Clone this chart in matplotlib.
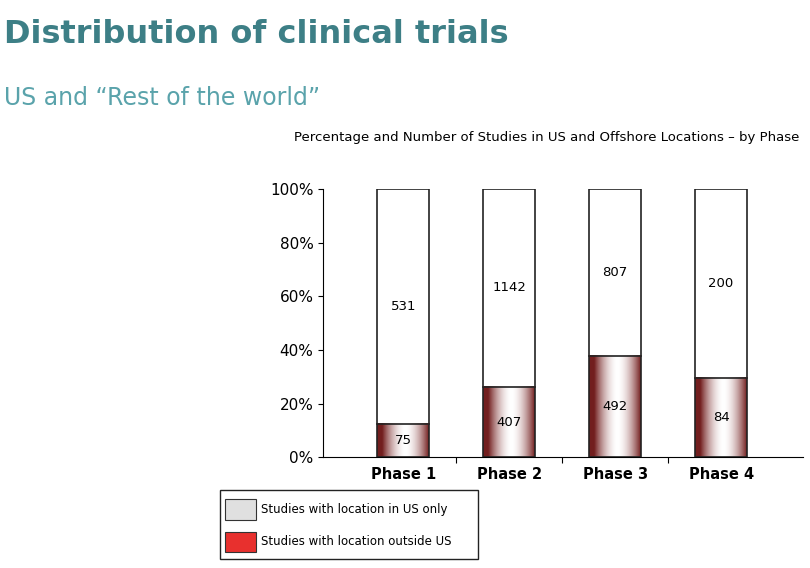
import matplotlib.pyplot as plt
import matplotlib.patches as mpatches
import numpy as np

phases = ["Phase 1", "Phase 2", "Phase 3", "Phase 4"]
us_only = [531, 1142, 807, 200]
outside = [75, 407, 492, 84]

fig = plt.figure(figsize=(8.1, 5.68), dpi=100)
fig.text(0.005, 0.94, "Distribution of clinical trials", fontsize=23, color="#3d7f86",
         fontweight="bold", va="center")
fig.text(0.005, 0.828, "US and \u201cRest of the world\u201d", fontsize=17, color="#5aa3ab",
         va="center")
fig.text(0.987, 0.758, "Percentage and Number of Studies in US and Offshore Locations \u2013 by Phase",
         fontsize=9.5, ha="right", va="center")

ax = fig.add_axes([0.399, 0.195, 0.592, 0.472])
x = np.arange(len(phases))
w = 0.49
totals = np.array(us_only) + np.array(outside)
pct_out = np.array(outside) / totals * 100

# gradient: dark red edges, white centre
t = np.linspace(0, 1, 200)
prof = np.clip(np.abs(t - 0.55) / 0.45, 0, 1) ** 1.8
dark = np.array([0.45, 0.12, 0.12])
grad = 1 - prof[:, None] * (1 - dark)[None, :]
grad = grad[None, :, :]

for i in range(len(phases)):
    ax.bar(x[i], 100 - pct_out[i], w, bottom=pct_out[i], color="white", edgecolor="#222222", lw=1.2, zorder=2)
    ax.imshow(grad, extent=[x[i] - w / 2, x[i] + w / 2, 0, pct_out[i]], aspect="auto", zorder=2)
    ax.bar(x[i], pct_out[i], w, facecolor="none", edgecolor="#222222", lw=1.2, zorder=3)
    ax.text(x[i], (pct_out[i] + 100) / 2, str(us_only[i]), ha="center", va="center", fontsize=9.5)
    ax.text(x[i], pct_out[i] / 2, str(outside[i]), ha="center", va="center", fontsize=9.5, zorder=4)

ax.set_xlim(-0.755, 3.77)
ax.set_ylim(0, 100)
ax.set_yticks(range(0, 101, 20))
ax.set_yticklabels([f"{v}%" for v in range(0, 101, 20)], fontsize=11)
ax.set_xticks([0.5, 1.5, 2.5])
ax.set_xticklabels([])
ax.tick_params(axis="x", length=4, direction="out")
for i, p in enumerate(phases):
    ax.text(x[i], -3.5, p, ha="center", va="top", fontsize=10.5, fontweight="bold")
for s in ["top", "right"]:
    ax.spines[s].set_visible(False)

# legend box
fig.patches.append(mpatches.Rectangle((0.272, 0.015), 0.318, 0.123, transform=fig.transFigure,
                                      facecolor="white", edgecolor="#222222", lw=1))
fig.patches.append(mpatches.Rectangle((0.278, 0.085), 0.038, 0.036, transform=fig.transFigure,
                                      facecolor="#e0e0e0", edgecolor="#333333", lw=0.8))
fig.patches.append(mpatches.Rectangle((0.278, 0.028), 0.038, 0.036, transform=fig.transFigure,
                                      facecolor="#e8302e", edgecolor="#333333", lw=0.8))
fig.text(0.322, 0.103, "Studies with location in US only", fontsize=8.5, va="center")
fig.text(0.322, 0.046, "Studies with location outside US", fontsize=8.5, va="center")

fig.savefig("out.png", dpi=100)
